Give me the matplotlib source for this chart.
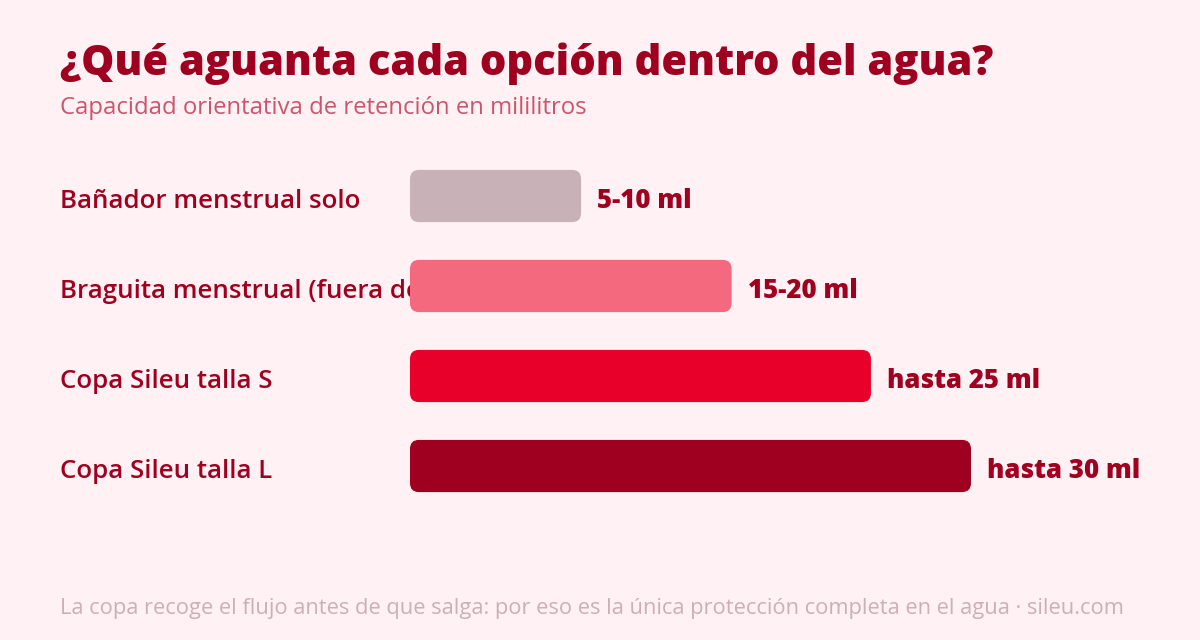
import matplotlib
matplotlib.use("Agg")
import matplotlib.pyplot as plt
from matplotlib.patches import FancyBboxPatch
from matplotlib.transforms import blended_transform_factory, offset_copy

# ---- data ----
categories = ["Bañador menstrual solo",
              "Braguita menstrual (fuera del agua)",
              "Copa Sileu talla S",
              "Copa Sileu talla L"]
values_ml = [9.15, 17.2, 24.65, 30.0]          # bar lengths
value_labels = ["5-10 ml", "15-20 ml", "hasta 25 ml", "hasta 30 ml"]
bar_colors = ["#C8B2B7", "#F4697E", "#E9002A", "#A00020"]

title = "¿Qué aguanta cada opción dentro del agua?"
subtitle = "Capacidad orientativa de retención en mililitros"
footer = ("La copa recoge el flujo antes de que salga: por eso es la única "
          "protección completa en el agua · sileu.com")

BG = "#FFF1F4"
DARK = "#A00020"
SUB = "#C9566E"
FOOT = "#CBB0B7"
FONT = ["Open Sans", "DejaVu Sans"]

W, H = 1200, 640
fig = plt.figure(figsize=(W / 100, H / 100), dpi=100, facecolor=BG)

# axes: x from 410px (0 ml) to 971px (30 ml); rows centred at 196..466px
ax_left, ax_right = 410, 971
ax_top, ax_bot = 151, 511
ax = fig.add_axes([ax_left / W, 1 - ax_bot / H, (ax_right - ax_left) / W, (ax_bot - ax_top) / H])
ax.set_facecolor("none")
ax.set_xlim(0, 30)
ax.set_ylim(len(categories) - 0.5, -0.5)
ax.axis("off")

ypos = list(range(len(categories)))
bars = ax.barh(ypos, values_ml, height=0.58, color=bar_colors, zorder=2)

# rounded corners
x_per_px = 30 / (ax_right - ax_left)
y_per_px = len(categories) / (ax_bot - ax_top)
radius_px = 9
for rect, c in zip(bars.patches, bar_colors):
    x, y = rect.get_x(), rect.get_y()
    w, h = rect.get_width(), rect.get_height()
    rect.set_visible(False)
    fb = FancyBboxPatch((x, y), w, h,
                        boxstyle=f"round,pad=0,rounding_size={radius_px * x_per_px}",
                        mutation_aspect=y_per_px / x_per_px,
                        facecolor=c, edgecolor="none", zorder=2)
    ax.add_patch(fb)

# category labels (drawn under the bars); baseline 12px below row centre
tr = blended_transform_factory(fig.transFigure, ax.transData)
tr_lab = offset_copy(tr, fig=fig, x=0, y=-12, units="dots")
for yv, lab in zip(ypos, categories):
    ax.text(60 / W, yv, lab, transform=tr_lab, ha="left", va="baseline",
            fontsize=18.6, fontweight="semibold", color=DARK, family=FONT,
            zorder=1, clip_on=False)

# value labels
tr_val = offset_copy(ax.transData, fig=fig, x=16, y=-12, units="dots")
for yv, v, lab in zip(ypos, values_ml, value_labels):
    ax.text(v, yv, lab, transform=tr_val, ha="left", va="baseline",
            fontsize=18.6, fontweight=800, color=DARK, family=FONT,
            zorder=3, clip_on=False)

fig.text(60 / W, 1 - 75 / H, title, ha="left", va="baseline",
         fontsize=30.1, fontweight=800, color=DARK, family=FONT)
fig.text(60 / W, 1 - 114 / H, subtitle, ha="left", va="baseline",
         fontsize=17.2, color=SUB, family=FONT)
fig.text(60 / W, 1 - 614 / H, footer, ha="left", va="baseline",
         fontsize=15.75, color=FOOT, family=FONT)

fig.savefig("out.png", dpi=100, facecolor=BG)
